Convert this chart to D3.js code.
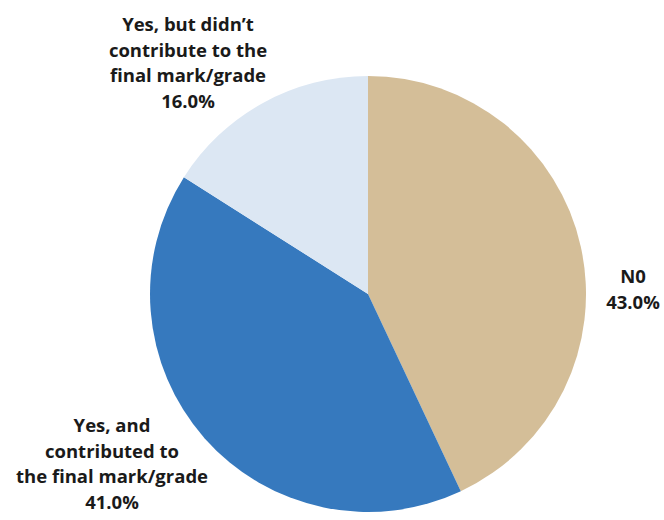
<!DOCTYPE html>
<html>
<head>
<meta charset="utf-8">
<script src="https://cdn.jsdelivr.net/npm/d3@7"></script>
<style>
  html, body { margin: 0; padding: 0; background: #fff; }
  svg { display: block; }
</style>
</head>
<body>
<svg id="chart" width="664" height="520"></svg>
<script>
const categories = ["N0", "Yes, and contributed to the final mark/grade", "Yes, but didn\u2019t contribute to the final mark/grade"];
const values = [43.0, 41.0, 16.0];
const colors = ["#d4be98", "#3679be", "#dce7f3"];
const labelLines = [
  ["N0", "43.0%"],
  ["Yes, and", "contributed to", "the final mark/grade", "41.0%"],
  ["Yes, but didn\u2019t", "contribute to the", "final mark/grade", "16.0%"]
];

const svg = d3.select("#chart");
const cx = 368, cy = 294, r = 218;
const g = svg.append("g").attr("transform", `translate(${cx},${cy})`);

const pie = d3.pie().sort(null).value(d => d)(values);
const arc = d3.arc().innerRadius(0).outerRadius(r);

g.selectAll("path.slice").data(pie).join("path")
  .attr("class", "slice")
  .attr("d", arc)
  .attr("fill", (d, i) => colors[i]);

// label anchor positions (centre x, first baseline y) in page coords
const labelPos = [
  [633, 283],
  [112, 432],
  [188, 31]
];
const lh = 25.6;
labelLines.forEach((lines, i) => {
  const t = svg.append("text")
    .attr("text-anchor", "middle")
    .attr("font-family", "'Open Sans', sans-serif")
    .attr("font-weight", "bold")
    .attr("font-size", "18.5px")
    .attr("fill", "#1a1a1a");
  lines.forEach((ln, j) => {
    t.append("tspan").attr("x", labelPos[i][0]).attr("y", labelPos[i][1] + j * lh).text(ln);
  });
});
</script>
</body>
</html>
